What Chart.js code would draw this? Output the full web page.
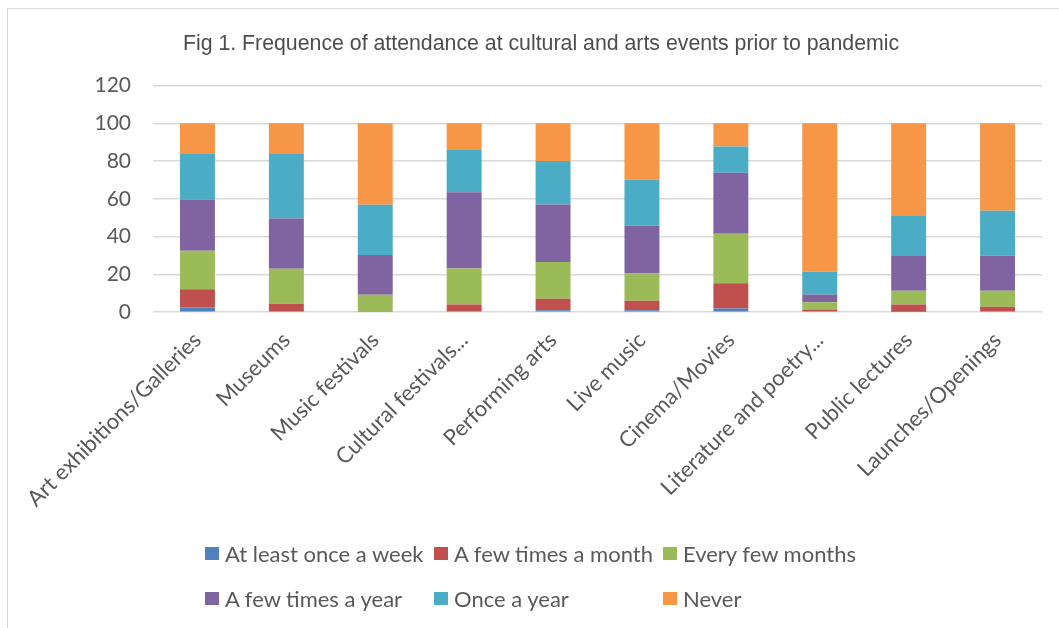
<!DOCTYPE html>
<html>
<head>
<meta charset="utf-8">
<script src="https://cdn.jsdelivr.net/npm/chart.js@4.4.1/dist/chart.umd.min.js"></script>
<style>
  html, body { margin: 0; padding: 0; background: #fff; overflow: hidden; }
  body { width: 1059px; height: 628px; position: relative; }
  #frame {
    position: absolute; left: 7px; top: 8px; width: 1200px; height: 800px;
    border-top: 1.5px solid #d9d9d9; border-left: 1.5px solid #d9d9d9;
  }
  #wrap { position: absolute; left: 0; top: 0; width: 1082px; height: 628px; }
  #legend {
    position: absolute; left: 205px; top: 539px;
    display: grid; grid-template-columns: 229px 229px 229px; row-gap: 17px;
    font-family: Lato, sans-serif; font-size: 22px; color: #595959;
  }
  #legend .item { display: flex; align-items: center; white-space: nowrap; height: 28px; }
  #legend .box { width: 14px; height: 13px; margin-right: 6px; flex: none; }
</style>
</head>
<body>
<div id="frame"></div>
<div id="wrap"><canvas id="chart"></canvas></div>
<div id="legend"></div>
<script>
const categories = [
  'Art exhibitions/Galleries', 'Museums', 'Music festivals', 'Cultural festivals...',
  'Performing arts', 'Live music', 'Cinema/Movies', 'Literature and poetry...',
  'Public lectures', 'Launches/Openings'
];

const seriesNames = [
  'At least once a week', 'A few times a month', 'Every few months',
  'A few times a year', 'Once a year', 'Never'
];

const seriesColors = ['#4F81BD', '#C0504D', '#9BBB59', '#8064A2', '#4BACC6', '#F79646'];

// percentages per category
const atLeastWeekly = [2.5, 0.4, 0, 0, 1.1, 1.0, 2.0, 0, 0.3, 0];
const fewTimesMonth = [9.6, 4.1, 0.7, 4.1, 6.0, 5.1, 13.3, 1.4, 3.8, 2.9];
const everyFewMonths = [20.5, 18.5, 8.6, 19.1, 19.5, 14.4, 26.2, 3.9, 7.3, 8.5];
const fewTimesYear = [27.1, 26.6, 21.0, 40.3, 30.4, 25.3, 32.3, 4.1, 18.4, 18.5];
const onceYear = [24.1, 34.5, 26.6, 22.4, 23.0, 24.3, 13.9, 12.0, 21.5, 23.8];
const never = [16.2, 15.9, 43.1, 14.1, 20.0, 29.9, 12.3, 78.6, 48.7, 46.3];

const yTicks = [0, 20, 40, 60, 80, 100, 120];

const seriesValues = [atLeastWeekly, fewTimesMonth, everyFewMonths, fewTimesYear, onceYear, never];

const textColor = '#595959';

const chart = new Chart(document.getElementById('chart'), {
  type: 'bar',
  data: {
    labels: categories,
    datasets: seriesNames.map((name, i) => ({
      label: name,
      data: seriesValues[i],
      backgroundColor: seriesColors[i],
      borderWidth: 0,
      barPercentage: 0.393,
      categoryPercentage: 1
    }))
  },
  options: {
    responsive: true,
    maintainAspectRatio: false,
    animation: false,
    layout: { padding: { left: 40, right: 40, top: 0, bottom: 109 } },
    plugins: {
      legend: { display: false },
      tooltip: { enabled: false },
      title: {
        display: true,
        text: 'Fig 1. Frequence of attendance at cultural and arts events prior to pandemic',
        color: '#4d4d4d',
        font: { family: '"Liberation Sans", Arial, sans-serif', size: 21.3, weight: 'normal' },
        padding: { top: 31, bottom: 29 }
      }
    },
    scales: {
      x: {
        stacked: true,
        grid: { display: false },
        border: { display: false },
        // rotated labels may hang past the plot edge, as in the original
        afterFit: scale => { scale.paddingLeft = 0; scale.paddingRight = 0; },
        ticks: {
          color: textColor,
          font: { family: 'Lato, sans-serif', size: 22 },
          minRotation: 45,
          maxRotation: 45,
          autoSkip: false,
          padding: 7
        }
      },
      y: {
        stacked: true,
        min: 0,
        max: 120,
        afterBuildTicks: scale => { scale.ticks = yTicks.map(v => ({ value: v })); },
        afterFit: scale => { scale.width = 113; },
        grid: { color: '#d9d9d9', lineWidth: 1.5, drawTicks: false },
        border: { display: false },
        ticks: {
          color: textColor,
          font: { family: 'Lato, sans-serif', size: 21 },
          padding: 22
        }
      }
    }
  }
});

// legend laid out in columns like the original
const legendEl = document.getElementById('legend');
chart.data.datasets.forEach(ds => {
  const item = document.createElement('div');
  item.className = 'item';
  const box = document.createElement('span');
  box.className = 'box';
  box.style.background = ds.backgroundColor;
  const label = document.createElement('span');
  label.textContent = ds.label;
  item.appendChild(box);
  item.appendChild(label);
  legendEl.appendChild(item);
});
</script>
</body>
</html>
